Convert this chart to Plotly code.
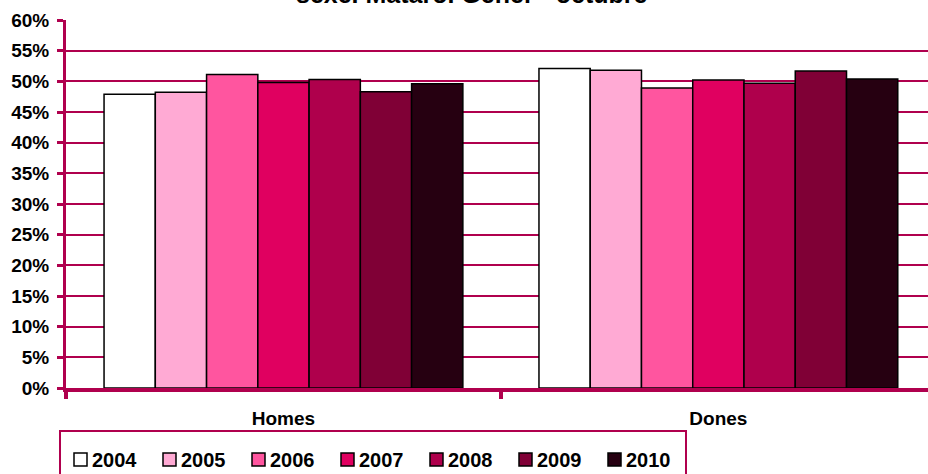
import plotly.graph_objects as go

categories = ["Homes", "Dones"]
years = ["2004", "2005", "2006", "2007", "2008", "2009", "2010"]
homes = [0.479, 0.482, 0.511, 0.498, 0.503, 0.483, 0.496]
dones = [0.521, 0.518, 0.489, 0.502, 0.497, 0.517, 0.504]
colors = ["#FFFFFF", "#FFAAD4", "#FF559F", "#E00060", "#AF004C", "#800036", "#260011"]
title_text = "sexe. Mataró. Gener - octubre"

GRID = "#B0004E"
FONT = "Liberation Sans, Arial, sans-serif"

# plot area in pixels (for the hand-made legend below the axis)
L, T, W, H = 66, 20, 862, 368


def px(x):
    return (x - L) / W


def py(y):
    return (T + H - y) / H


fig = go.Figure()
for i, y in enumerate(years):
    fig.add_trace(go.Bar(
        name=y, x=categories, y=[homes[i], dones[i]],
        marker=dict(color=colors[i], line=dict(color="#000000", width=1.5)),
        showlegend=False,
    ))

shapes = [dict(type="rect", xref="paper", yref="paper",
               x0=px(60), x1=px(686), y0=py(480), y1=py(431),
               line=dict(color=GRID, width=2), fillcolor="rgba(0,0,0,0)", layer="above")]
annotations = [dict(
    text=title_text, xref="paper", yref="paper",
    x=0.471, y=1.028, xanchor="center", yanchor="bottom", showarrow=False,
    font=dict(family=FONT, size=25, color="#000000", weight="bold"),
)]
for k, (yr, c) in enumerate(zip(years, colors)):
    sx = 74 + 89 * k
    shapes.append(dict(type="rect", xref="paper", yref="paper",
                       x0=px(sx), x1=px(sx + 13), y0=py(466), y1=py(453),
                       line=dict(color="#000000", width=1.5), fillcolor=c, layer="above"))
    annotations.append(dict(
        text=yr, xref="paper", yref="paper", x=px(sx + 16), y=py(460),
        xanchor="left", yanchor="middle", showarrow=False,
        font=dict(family=FONT, size=20, color="#000000", weight="bold"),
    ))

fig.update_layout(
    width=928, height=474,
    margin=dict(l=L, r=0, t=T, b=474 - T - H),
    paper_bgcolor="white", plot_bgcolor="white",
    barmode="group", bargap=0.175, bargroupgap=0,
    font=dict(family=FONT, size=19, color="#000000", weight="bold"),
    showlegend=False,
    xaxis=dict(
        range=[-0.5, 1.482], showgrid=False, automargin=False,
        showline=True, linecolor=GRID, linewidth=4,
        ticks="outside", tickson="boundaries", ticklen=7, tickwidth=4, tickcolor=GRID,
        ticklabelstandoff=10,
        tickfont=dict(family=FONT, size=19, color="#000000", weight="bold"),
    ),
    yaxis=dict(
        range=[0, 0.6], dtick=0.05, tickformat=".0%", automargin=False,
        showgrid=True, gridcolor=GRID, gridwidth=2,
        showline=True, linecolor=GRID, linewidth=3,
        ticks="outside", ticklen=6, tickwidth=3, tickcolor=GRID,
        ticklabelstandoff=4,
        zeroline=False,
        tickfont=dict(family=FONT, size=19, color="#000000", weight="bold"),
    ),
    shapes=shapes,
    annotations=annotations,
)

fig.write_html("out.html", config={"displayModeBar": False},
               post_script="document.body.style.margin='0';")
